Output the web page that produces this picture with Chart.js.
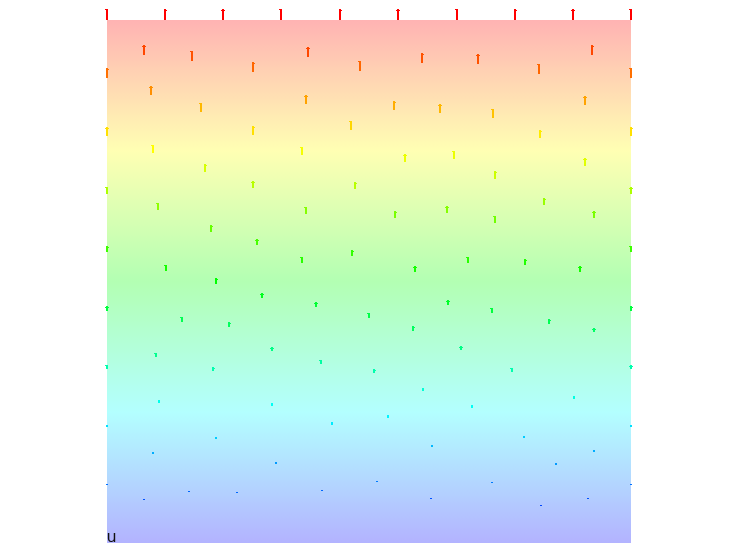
<!DOCTYPE html>
<html><head><meta charset="utf-8">
<script src="https://cdn.jsdelivr.net/npm/chart.js@4/dist/chart.umd.min.js"></script>
<style>html,body{margin:0;padding:0;background:#fff}</style>
</head><body>
<canvas id="c" width="731" height="558"></canvas>
<script>
// ---- data (domain [0,1] x [0,1]) ----
const fieldName = "u";
const nodeX = [
 0,0.111,0.222,0.333,0.444,0.556,0.667,0.778,0.889,1,
 0,0,0,0,0,0,0,0,
 1,1,1,1,1,1,1,1,
 0.071,0.162,0.279,0.384,0.483,0.601,0.708,0.824,0.926,
 0.084,0.179,0.279,0.380,0.466,0.548,0.635,0.737,0.826,0.912,
 0.088,0.187,0.279,0.372,0.473,0.569,0.662,0.740,0.912,
 0.097,0.198,0.286,0.380,0.550,0.649,0.740,0.834,0.929,
 0.113,0.208,0.296,0.372,0.468,0.588,0.689,0.798,0.903,
 0.143,0.233,0.399,0.500,0.584,0.651,0.735,0.844,0.929,
 0.094,0.202,0.315,0.408,0.510,0.676,0.773,
 0.099,0.315,0.429,0.536,0.603,0.697,0.891,0.796,
 0.208,0.088,0.323,0.620,0.929,0.857,
 0.156,0.248,0.410,0.515,0.735,0.071,0.618,0.918,0.828
];
const nodeY = [
 1,1,1,1,1,1,1,1,1,1,
 0.889,0.778,0.667,0.556,0.444,0.333,0.222,0.111,
 0.889,0.778,0.667,0.556,0.444,0.333,0.222,0.111,
 0.933,0.922,0.901,0.929,0.902,0.918,0.916,0.897,0.933,
 0.857,0.824,0.780,0.839,0.790,0.828,0.822,0.813,0.774,0.837,
 0.746,0.709,0.679,0.742,0.677,0.728,0.734,0.696,0.721,
 0.637,0.595,0.570,0.629,0.621,0.631,0.612,0.646,0.621,
 0.520,0.495,0.468,0.535,0.549,0.518,0.535,0.532,0.518,
 0.423,0.413,0.451,0.430,0.405,0.455,0.440,0.419,0.403,
 0.356,0.329,0.367,0.342,0.325,0.369,0.327,
 0.268,0.262,0.226,0.239,0.291,0.258,0.275,0.201,
 0.199,0.170,0.151,0.184,0.174,0.149,
 0.098,0.096,0.099,0.117,0.115,0.082,0.084,0.084,0.071
];
const nodeU = [
 1,1,1,1,1,1,1,1,1,1,
 0.89,0.78,0.67,0.56,0.44,0.33,0.22,0.11,
 0.89,0.78,0.67,0.56,0.44,0.33,0.22,0.11,
 0.93,0.92,0.90,0.93,0.90,0.92,0.92,0.90,0.93,
 0.86,0.82,0.78,0.84,0.79,0.83,0.82,0.81,0.77,0.84,
 0.75,0.71,0.68,0.74,0.68,0.73,0.73,0.70,0.72,
 0.64,0.60,0.57,0.63,0.62,0.63,0.61,0.65,0.62,
 0.52,0.50,0.47,0.54,0.55,0.52,0.54,0.53,0.52,
 0.42,0.41,0.45,0.43,0.41,0.46,0.44,0.42,0.40,
 0.36,0.33,0.37,0.34,0.33,0.37,0.33,
 0.27,0.26,0.23,0.24,0.29,0.26,0.28,0.20,
 0.20,0.17,0.15,0.18,0.17,0.15,
 0.10,0.10,0.10,0.12,0.12,0.08,0.08,0.08,0.07
];
// background fill: field value u at heights y
const bgY = [0,0.1,0.2,0.3,0.4,0.5,0.6,0.7,0.8,0.9,1];
const bgU = [0,0.1,0.2,0.3,0.4,0.5,0.6,0.7,0.8,0.9,1];

// ---- styling ----
const ARROW_PX = 11;
function hsv(h){ // h degrees, s=v=1
  h = ((h % 360) + 360) % 360;
  const c = 1, x = 1 - Math.abs((h/60) % 2 - 1);
  let r,g,b;
  if (h<60){r=c;g=x;b=0;} else if (h<120){r=x;g=c;b=0;} else if (h<180){r=0;g=c;b=x;}
  else if (h<240){r=0;g=x;b=c;} else if (h<300){r=x;g=0;b=c;} else {r=c;g=0;b=x;}
  return [r*255,g*255,b*255];
}
function cmap(u){ return hsv(240*(1-Math.max(0,Math.min(1,u)))); }
function rgb(a){ return 'rgb('+a.map(v=>Math.round(v)).join(',')+')'; }
function pastel(u){ return rgb(cmap(u).map(v=>0.3*v+0.7*255)); }
function interp(xs, ys, t){
  for (let i=0;i<xs.length-1;i++){
    if (t>=xs[i] && t<=xs[i+1]){ const f=(t-xs[i])/(xs[i+1]-xs[i]); return ys[i]+f*(ys[i+1]-ys[i]); }
  }
  return t<xs[0]?ys[0]:ys[ys.length-1];
}

const bgPlugin = {
  id:'fieldFill',
  beforeDatasetsDraw(chart){
    const {ctx, chartArea:a, scales:{y}} = chart;
    const y0 = y.getPixelForValue(0), y1 = y.getPixelForValue(1);
    const g = ctx.createLinearGradient(0, y0, 0, y1);
    for (let k=0;k<=120;k++){
      const t = k/120;
      g.addColorStop(t, pastel(interp(bgY, bgU, t)));
    }
    ctx.save();
    ctx.fillStyle = g;
    ctx.fillRect(a.left, a.top, a.right-a.left, a.bottom-a.top);
    ctx.restore();
  }
};
const arrowPlugin = {
  id:'arrows',
  afterDatasetsDraw(chart){
    const ctx = chart.ctx;
    const meta = chart.getDatasetMeta(0);
    const ds = chart.data.datasets[0].data;
    ctx.save();
    meta.data.forEach((el,i)=>{
      const u = ds[i].u;
      const len = Math.round(u*ARROW_PX);
      if (len<=0) return;
      const x0 = Math.round(el.x)-1, yb = Math.round(el.y);
      ctx.fillStyle = rgb(cmap(u));
      ctx.fillRect(x0, yb-len, 2, len);
      if (len>=4) {
        const side = i % 3;
        if (side===0) ctx.fillRect(x0-1, yb-len, 1, 1);
        else if (side===1) ctx.fillRect(x0+2, yb-len+1, 1, 1);
        else { ctx.fillRect(x0-1, yb-len+1, 1, 1); ctx.fillRect(x0+2, yb-len+1, 1, 1); }
      }
    });
    ctx.restore();
  }
};
const labelPlugin = {
  id:'fieldLabel',
  afterDraw(chart){
    const {ctx, chartArea:a} = chart;
    ctx.save();
    ctx.fillStyle = '#111';
    ctx.font = '16px "DejaVu Sans"';
    ctx.textBaseline = 'alphabetic';
    ctx.textAlign = 'left';
    ctx.fillText(fieldName, a.left-0.5, a.bottom-1);
    ctx.restore();
  }
};

new Chart(document.getElementById('c'), {
  type:'scatter',
  data:{ datasets:[{
    label: fieldName,
    data: nodeX.map((x,i)=>({x, y:nodeY[i], u:nodeU[i]})),
    pointRadius:0, pointHoverRadius:0
  }]},
  options:{
    responsive:false, animation:false, devicePixelRatio:1,
    layout:{ padding:{ left:107, right:100, top:20, bottom:15 } },
    scales:{
      x:{ type:'linear', min:0, max:1, display:false },
      y:{ type:'linear', min:0, max:1, display:false }
    },
    plugins:{ legend:{display:false}, tooltip:{enabled:false} },
    events:[]
  },
  plugins:[bgPlugin, arrowPlugin, labelPlugin]
});
</script>
</body></html>
